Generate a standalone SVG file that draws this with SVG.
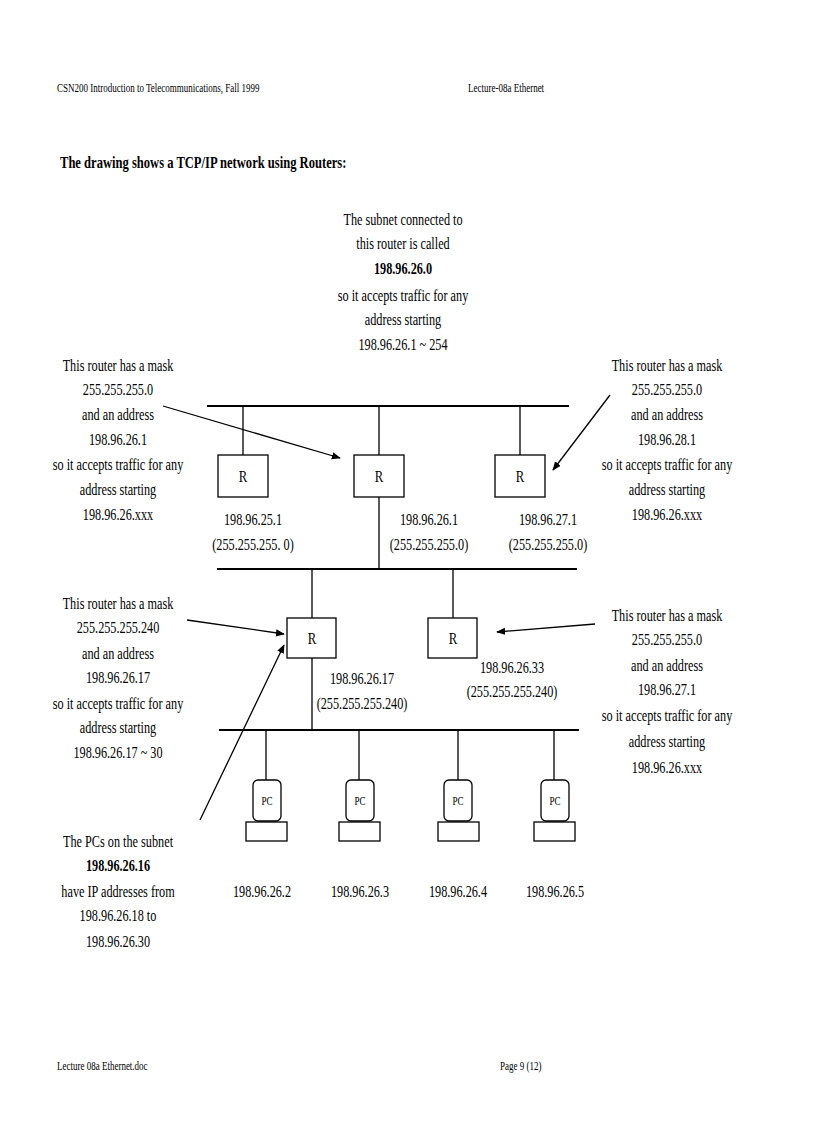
<svg xmlns="http://www.w3.org/2000/svg" width="816" height="1123" viewBox="0 0 816 1123">
<style>
text{font-family:"Liberation Serif","Times New Roman",serif;font-size:17px;fill:#000;text-anchor:middle}
.b{font-weight:bold}
.s{font-size:12px;text-anchor:start}
.l{text-anchor:start}
line,rect,path{stroke:#000;stroke-width:1.3;fill:none}
.bus{stroke-width:2}
.ar{marker-end:url(#ah)}
</style>
<defs><marker id="ah" viewBox="0 0 10 10" refX="9" refY="5" markerWidth="9" markerHeight="9" orient="auto" markerUnits="userSpaceOnUse"><path d="M0,1 L10,5 L0,9 z" style="fill:#000;stroke:none"/></marker></defs>
<rect x="0" y="0" width="816" height="1123" style="fill:#fff;stroke:none"/>
<g id="header">
<text class="s" transform="translate(57,92) scale(0.75,1)">CSN200 Introduction to Telecommunications,  Fall 1999</text>
<text class="s" transform="translate(468,92) scale(0.75,1)">Lecture-08a  Ethernet</text>
<text class="b l" transform="translate(60,168) scale(0.74,1)">The drawing  shows  a TCP/IP network  using  Routers:</text>
</g>
<g id="connectors">
<line class="bus" x1="207" y1="406" x2="569" y2="406"/>
<line x1="243" y1="406" x2="243" y2="455"/>
<line x1="379" y1="406" x2="379" y2="455"/>
<line x1="520" y1="406" x2="520" y2="455"/>
<line x1="379" y1="497" x2="379" y2="569"/>
<line class="bus" x1="217" y1="569" x2="577" y2="569"/>
<line x1="312" y1="569" x2="312" y2="618"/>
<line x1="453" y1="569" x2="453" y2="618"/>
<line x1="312" y1="658" x2="312" y2="730"/>
<line class="bus" x1="219" y1="730" x2="579" y2="730"/>
<line x1="266" y1="730" x2="266" y2="780"/>
<line x1="359" y1="730" x2="359" y2="780"/>
<line x1="458" y1="730" x2="458" y2="780"/>
<line x1="554" y1="730" x2="554" y2="780"/>
<line class="ar" x1="163" y1="406" x2="340" y2="458"/>
<line class="ar" x1="610" y1="395" x2="553" y2="470"/>
<line class="ar" x1="187" y1="620" x2="284" y2="634"/>
<line class="ar" x1="595" y1="624" x2="497" y2="632"/>
<line class="ar" x1="200" y1="820" x2="284" y2="645"/>
</g>
<g id="r1"><rect x="218" y="455" width="50" height="42"/><text transform="translate(243,482) scale(0.75,1)">R</text></g>
<g id="r2"><rect x="354" y="455" width="50" height="42"/><text transform="translate(379,482) scale(0.75,1)">R</text></g>
<g id="r3"><rect x="495" y="455" width="50" height="42"/><text transform="translate(520,482) scale(0.75,1)">R</text></g>
<g id="r4"><rect x="287" y="618" width="49" height="40"/><text transform="translate(312,644) scale(0.75,1)">R</text></g>
<g id="r5"><rect x="428" y="618" width="49" height="40"/><text transform="translate(453,644) scale(0.75,1)">R</text></g>
<g id="pc1"><rect x="253" y="780" width="28" height="41" rx="5"/><rect x="246" y="822" width="41" height="19"/><text style="font-size:13px" transform="translate(267,805) scale(0.7,1)">PC</text></g>
<g id="pc2"><rect x="346" y="780" width="28" height="41" rx="5"/><rect x="339" y="822" width="41" height="19"/><text style="font-size:13px" transform="translate(360,805) scale(0.7,1)">PC</text></g>
<g id="pc3"><rect x="444" y="780" width="28" height="41" rx="5"/><rect x="438" y="822" width="41" height="19"/><text style="font-size:13px" transform="translate(458,805) scale(0.7,1)">PC</text></g>
<g id="pc4"><rect x="541" y="780" width="28" height="41" rx="5"/><rect x="534" y="822" width="41" height="19"/><text style="font-size:13px" transform="translate(555,805) scale(0.7,1)">PC</text></g>
<g id="labels">
<text transform="translate(403,225) scale(0.72,1)">The subnet connected to</text>
<text transform="translate(403,249) scale(0.72,1)">this router is called</text>
<text class="b" transform="translate(403,274) scale(0.72,1)">198.96.26.0</text>
<text transform="translate(403,301) scale(0.72,1)">so it accepts traffic  for any</text>
<text transform="translate(403,325) scale(0.72,1)">address starting</text>
<text transform="translate(403,350) scale(0.72,1)">198.96.26.1 ~ 254</text>

<text transform="translate(118,371) scale(0.72,1)">This  router has a mask</text>
<text transform="translate(118,395) scale(0.72,1)">255.255.255.0</text>
<text transform="translate(118,420) scale(0.72,1)">and an address</text>
<text transform="translate(118,445) scale(0.72,1)">198.96.26.1</text>
<text transform="translate(118,470) scale(0.72,1)">so it accepts traffic  for any</text>
<text transform="translate(118,495) scale(0.72,1)">address starting</text>
<text transform="translate(118,520) scale(0.72,1)">198.96.26.xxx</text>

<text transform="translate(667,371) scale(0.72,1)">This router has a mask</text>
<text transform="translate(667,395) scale(0.72,1)">255.255.255.0</text>
<text transform="translate(667,420) scale(0.72,1)">and an address</text>
<text transform="translate(667,445) scale(0.72,1)">198.96.28.1</text>
<text transform="translate(667,470) scale(0.72,1)">so it accepts traffic  for any</text>
<text transform="translate(667,495) scale(0.72,1)">address starting</text>
<text transform="translate(667,520) scale(0.72,1)">198.96.26.xxx</text>

<text transform="translate(253,525) scale(0.72,1)">198.96.25.1</text>
<text transform="translate(253,550) scale(0.72,1)">(255.255.255. 0)</text>
<text transform="translate(429,525) scale(0.72,1)">198.96.26.1</text>
<text transform="translate(429,550) scale(0.72,1)">(255.255.255.0)</text>
<text transform="translate(548,525) scale(0.72,1)">198.96.27.1</text>
<text transform="translate(548,550) scale(0.72,1)">(255.255.255.0)</text>

<text transform="translate(118,609) scale(0.72,1)">This  router has a mask</text>
<text transform="translate(118,633) scale(0.72,1)">255.255.255.240</text>
<text transform="translate(118,659) scale(0.72,1)">and an address</text>
<text transform="translate(118,683) scale(0.72,1)">198.96.26.17</text>
<text transform="translate(118,709) scale(0.72,1)">so it accepts traffic  for any</text>
<text transform="translate(118,733) scale(0.72,1)">address starting</text>
<text transform="translate(118,758) scale(0.72,1)">198.96.26.17 ~ 30</text>

<text transform="translate(667,621) scale(0.72,1)">This router has a mask</text>
<text transform="translate(667,645) scale(0.72,1)">255.255.255.0</text>
<text transform="translate(667,671) scale(0.72,1)">and an address</text>
<text transform="translate(667,695) scale(0.72,1)">198.96.27.1</text>
<text transform="translate(667,721) scale(0.72,1)">so it accepts traffic  for any</text>
<text transform="translate(667,747) scale(0.72,1)">address starting</text>
<text transform="translate(667,773) scale(0.72,1)">198.96.26.xxx</text>

<text transform="translate(362,684) scale(0.72,1)">198.96.26.17</text>
<text transform="translate(362,709) scale(0.72,1)">(255.255.255.240)</text>
<text transform="translate(512,673) scale(0.72,1)">198.96.26.33</text>
<text transform="translate(512,697) scale(0.72,1)">(255.255.255.240)</text>

<text transform="translate(118,847) scale(0.72,1)">The PCs on the subnet</text>
<text class="b" transform="translate(118,871) scale(0.72,1)">198.96.26.16</text>
<text transform="translate(118,897) scale(0.72,1)">have IP addresses from</text>
<text transform="translate(118,921) scale(0.72,1)">198.96.26.18 to</text>
<text transform="translate(118,947) scale(0.72,1)">198.96.26.30</text>

<text transform="translate(262,897) scale(0.72,1)">198.96.26.2</text>
<text transform="translate(360,897) scale(0.72,1)">198.96.26.3</text>
<text transform="translate(458,897) scale(0.72,1)">198.96.26.4</text>
<text transform="translate(555,897) scale(0.72,1)">198.96.26.5</text>
</g>
<g id="footer">
<text class="s" transform="translate(57,1070) scale(0.75,1)">Lecture  08a  Ethernet.doc</text>
<text class="s" transform="translate(500,1070) scale(0.75,1)">Page 9 (12)</text>
</g>
</svg>
